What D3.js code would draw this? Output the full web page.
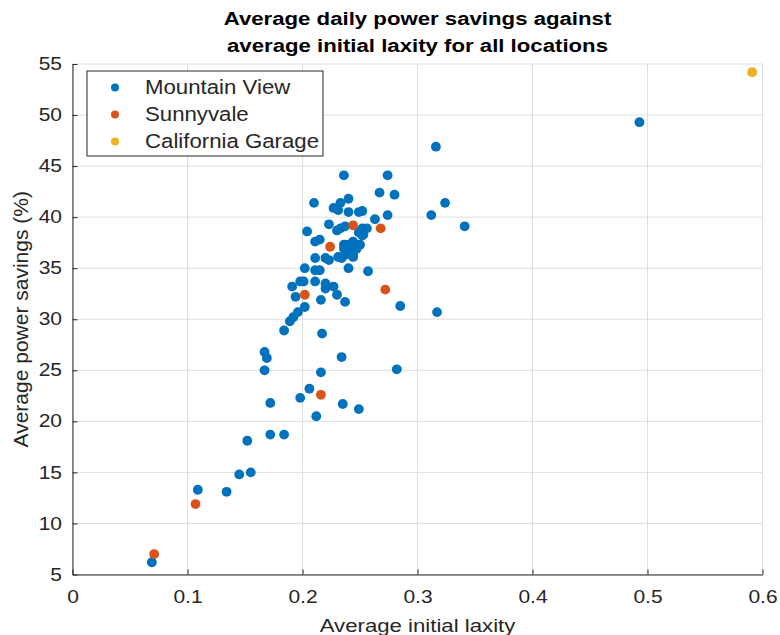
<!DOCTYPE html>
<html>
<head>
<meta charset="utf-8">
<script src="https://cdn.jsdelivr.net/npm/d3@7"></script>
<style>
  body { margin: 0; background: #fff; }
  svg { display: block; font-family: "Liberation Sans", Arial, sans-serif; }
</style>
</head>
<body>
<main></main>
<script>
// Mountain View: [initial laxity, power savings %]
const mountainView = [
  [0.069, 6.2], [0.109, 13.3], [0.134, 13.1], [0.145, 14.8], [0.155, 15.0],
  [0.152, 18.1], [0.172, 18.7], [0.184, 18.7], [0.172, 21.8], [0.198, 22.3],
  [0.206, 23.2], [0.212, 20.5], [0.235, 21.7], [0.249, 21.2], [0.216, 24.8],
  [0.282, 25.1], [0.167, 25.0], [0.169, 26.2], [0.167, 26.8], [0.234, 26.3],
  [0.217, 28.6], [0.184, 28.9], [0.189, 29.8], [0.192, 30.2], [0.196, 30.7],
  [0.202, 31.2], [0.216, 31.9], [0.237, 31.7], [0.285, 31.3], [0.317, 30.7],
  [0.194, 32.2], [0.230, 32.4], [0.191, 33.2], [0.198, 33.7], [0.201, 33.7],
  [0.211, 33.7], [0.220, 33.5], [0.220, 33.0], [0.227, 33.2], [0.202, 35.0],
  [0.211, 34.8], [0.215, 34.8], [0.240, 35.0], [0.257, 34.7], [0.211, 36.0],
  [0.220, 36.0], [0.223, 35.8], [0.234, 36.0], [0.244, 36.1], [0.231, 36.1],
  [0.237, 36.3], [0.244, 36.3], [0.236, 36.9], [0.243, 36.9], [0.247, 36.9],
  [0.240, 37.3], [0.250, 37.3], [0.236, 37.3], [0.211, 37.6], [0.215, 37.8],
  [0.244, 37.6], [0.204, 38.6], [0.252, 38.2], [0.249, 38.5], [0.253, 38.3],
  [0.223, 39.3], [0.230, 38.7], [0.233, 38.9], [0.237, 39.1], [0.252, 38.9],
  [0.256, 38.9], [0.263, 39.8], [0.274, 40.2], [0.312, 40.2], [0.324, 41.4],
  [0.227, 40.9], [0.231, 40.7], [0.240, 40.5], [0.249, 40.5], [0.252, 40.6],
  [0.233, 41.4], [0.240, 41.8], [0.210, 41.4], [0.267, 42.4], [0.280, 42.2],
  [0.236, 44.1], [0.274, 44.1], [0.316, 46.9], [0.341, 39.1], [0.493, 49.3]
];
const sunnyvale = [
  [0.071, 7.0], [0.107, 11.9], [0.216, 22.6], [0.202, 32.4], [0.272, 32.9],
  [0.224, 37.1], [0.244, 39.2], [0.268, 38.9]
];
const californiaGarage = [[0.591, 54.2]];

const seriesNames = ['Mountain View', 'Sunnyvale', 'California Garage'];
const seriesColors = ['#0072BD', '#D95319', '#EDB120'];
const xTicks = [0, 0.1, 0.2, 0.3, 0.4, 0.5, 0.6];
const yTicks = [5, 10, 15, 20, 25, 30, 35, 40, 45, 50, 55];

const width = 780;
const height = 635;
const margin = { top: 64, right: 17.5, bottom: 60.5, left: 72.5 };
const axisColor = '#262626';
// the reference text is drawn wider than it is tall
const stretch = 1.2;

const svg = d3.select('main')
  .append('svg')
  .attr('width', width)
  .attr('height', height);

const x = d3.scaleLinear().domain([0, 0.6]).range([margin.left, width - margin.right]);
const y = d3.scaleLinear().domain([5, 55]).range([height - margin.bottom, margin.top]);

// Grid
svg.append('g')
  .selectAll('line')
  .data(xTicks)
  .enter()
  .append('line')
  .attr('x1', d => x(d)).attr('x2', d => x(d))
  .attr('y1', y(5)).attr('y2', y(55))
  .attr('stroke', '#dedede')

svg.append('g')
  .selectAll('line')
  .data(yTicks)
  .enter()
  .append('line')
  .attr('x1', x(0)).attr('x2', x(0.6))
  .attr('y1', d => y(d)).attr('y2', d => y(d))
  .attr('stroke', '#dedede')

// Axes
const xAxis = svg.append('g')
  .attr('transform', `translate(0, ${y(5)})`)
  .call(d3.axisBottom(x).tickValues(xTicks).tickFormat(d3.format('')).tickSizeInner(-5).tickSizeOuter(0).tickPadding(16))

const yAxis = svg.append('g')
  .attr('transform', `translate(${x(0)}, 0)`)
  .call(d3.axisLeft(y).tickValues(yTicks).tickSizeInner(-5).tickSizeOuter(0))

for (const ax of [xAxis, yAxis]) {
  ax.select('.domain').attr('stroke', axisColor)
  ax.selectAll('.tick line').attr('stroke', axisColor)
  ax.selectAll('.tick text')
    .attr('fill', axisColor)
    .attr('transform', `scale(${stretch}, 1)`)
    .style('font-size', '17.5px')
    .style('font-family', '"Liberation Sans", Arial, sans-serif')
}
xAxis.selectAll('.tick text').attr('dy', '0.71em')
yAxis.selectAll('.tick text').attr('x', -10.5 / stretch)

// Points
const groups = [mountainView, sunnyvale, californiaGarage];
groups.forEach((pts, i) => {
  svg.append('g')
    .selectAll('circle')
    .data(pts)
    .enter()
    .append('circle')
    .attr('cx', d => x(d[0]))
    .attr('cy', d => y(d[1]))
    .attr('r', 4.9)
    .attr('fill', seriesColors[i])
})

// Titles
const titleLines = ['Average daily power savings against', 'average initial laxity for all locations'];
svg.append('g')
  .selectAll('text')
  .data(titleLines)
  .enter()
  .append('text')
  .attr('transform', (d, i) => `translate(${(x(0) + x(0.6)) / 2}, ${25 + i * 26.5}) scale(${stretch}, 1)`)
  .attr('text-anchor', 'middle')
  .style('font-weight', 'bold')
  .style('font-size', '18.5px')
  .attr('fill', '#000')
  .text(d => d)

svg.append('text')
  .attr('transform', `translate(${(x(0) + x(0.6)) / 2}, 632) scale(${stretch}, 1)`)
  .attr('text-anchor', 'middle')
  .style('font-size', '18.5px')
  .attr('fill', axisColor)
  .text('Average initial laxity')

svg.append('text')
  .attr('transform', `translate(28, ${(y(5) + y(55)) / 2}) rotate(-90)`)
  .attr('text-anchor', 'middle')
  .style('font-size', '21px')
  .attr('fill', axisColor)
  .text('Average power savings (%)')

// Legend
const legend = svg.append('g')
  .attr('transform', 'translate(87, 71)')

legend.append('rect')
  .attr('width', 236)
  .attr('height', 85)
  .attr('fill', '#fff')
  .attr('stroke', axisColor)

const legendItems = legend.selectAll('g')
  .data(seriesNames)
  .enter()
  .append('g')
  .attr('transform', (d, i) => `translate(0, ${16.5 + i * 27})`)

legendItems.append('circle')
  .attr('cx', 28)
  .attr('r', 4)
  .attr('fill', (d, i) => seriesColors[i])

legendItems.append('text')
  .attr('transform', 'translate(58, 0) scale(1.14, 1)')
  .attr('dy', '0.35em')
  .style('font-size', '19.5px')
  .attr('fill', axisColor)
  .text(d => d)
</script>
</body>
</html>
